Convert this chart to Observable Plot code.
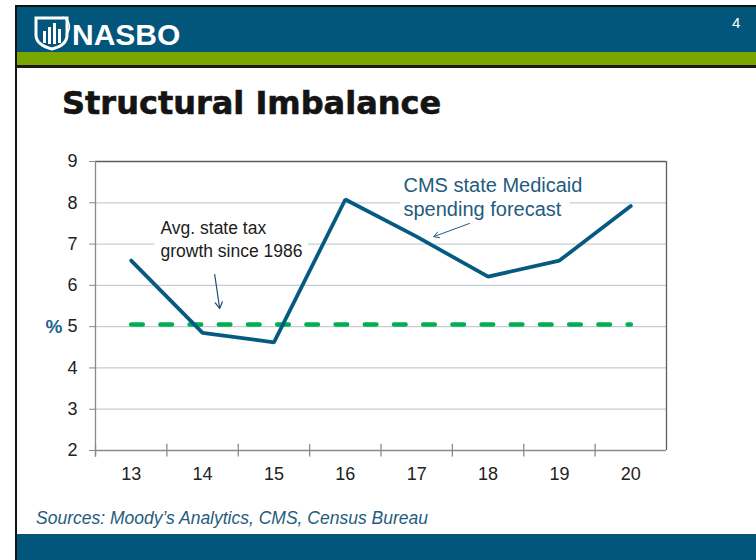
<!DOCTYPE html>
<html>
<head>
<meta charset="utf-8">
<script src="https://cdn.jsdelivr.net/npm/d3@7"></script>
<script src="https://cdn.jsdelivr.net/npm/@observablehq/plot@0.6"></script>
<style>
  html, body { margin: 0; padding: 0; background: #fff; }
  #slide { position: relative; width: 756px; height: 560px; overflow: hidden; background: #fff; font-family: "Liberation Sans", Arial, sans-serif; }
  .abs { position: absolute; }
  #chart { position: absolute; left: 0; top: 140px; }
</style>
</head>
<body>
<div id="slide">
  <div class="abs" style="left:15px;top:5px;width:741px;height:2px;background:#111;"></div>
  <div class="abs" style="left:17px;top:7px;width:739px;height:45px;background:#02557B;"></div>
  <div class="abs" style="left:17px;top:52px;width:739px;height:13px;background:#7AA600;"></div>
  <div class="abs" style="left:15px;top:65px;width:741px;height:2.5px;background:#1a1a1a;"></div>
  <div class="abs" style="left:15px;top:5px;width:2px;height:555px;background:#111;"></div>
  <div class="abs" style="left:17px;top:534px;width:739px;height:26px;background:#02557B;"></div>
  <svg class="abs" style="left:33px;top:15px;" width="40" height="36" viewBox="0 0 40 36">
    <path d="M3 3 H34 V20 C34 28 27 32 19 34 C11 32 3 28 3 20 Z" fill="none" stroke="#fff" stroke-width="3"/>
    <rect x="10" y="16" width="3" height="12" fill="#fff"/>
    <rect x="15" y="12" width="3" height="17" fill="#fff"/>
    <rect x="20" y="8" width="3" height="21" fill="#fff"/>
    <rect x="25" y="14" width="3" height="14" fill="#fff"/>
    <path d="M30 2 C38 6 38 14 33 20" fill="none" stroke="#fff" stroke-width="1.5"/>
  </svg>
  <div class="abs" style="left:72px;top:20px;font-size:30px;line-height:30px;font-weight:bold;color:#fff;letter-spacing:0px;">NASBO</div>
  <div class="abs" style="left:732px;top:15px;font-size:15px;line-height:15px;color:#fff;">4</div>
  <div class="abs" style="left:62px;top:87px;font-family:'DejaVu Sans',sans-serif;font-size:32px;line-height:32px;font-weight:bold;color:#141414;-webkit-text-stroke:0.6px #141414;">Structural Imbalance</div>
  <div id="chart"></div>
  <div class="abs" style="left:36px;top:509px;font-size:17.5px;line-height:18px;font-style:italic;color:#1F5C7E;">Sources: Moody’s Analytics, CMS, Census Bureau</div>
</div>
<script>
// ---- data ----
const years = [13, 14, 15, 16, 17, 18, 19, 20];
const medicaid = [6.6, 4.85, 4.62, 8.08, 7.18, 6.21, 6.6, 7.92];
const taxAvg = [5.05, 5.05, 5.05, 5.05, 5.05, 5.05, 5.05, 5.05];
const yTicks = [2, 3, 4, 5, 6, 7, 8, 9];
const gridLines = [3, 4, 5, 6, 7, 8];
const boundaries = [12.5, 13.5, 14.5, 15.5, 16.5, 17.5, 18.5, 19.5];
const taxLabel = "Avg. state tax\ngrowth since 1986";
const medicaidLabel = "CMS state Medicaid\nspending forecast";
const yLabel = "%";

const lineData = years.map((x, i) => ({x, y: medicaid[i]}));
const avgData = years.map((x, i) => ({x, y: taxAvg[i]}));

const axisGray = "#8a8a8a";
const frameGray = "#5e5e5e";
const gridColor = "#C7CDD7";
const lineBlue = "#065A82";
const annBlue = "#1F5C7E";

const chart = Plot.plot({
  width: 756,
  height: 360,
  marginLeft: 95,
  marginRight: 90,
  marginTop: 21,
  marginBottom: 50,
  style: {background: "transparent", color: "#222", fontFamily: "'Liberation Sans', Arial, sans-serif", fontSize: "18px", overflow: "visible"},
  x: {type: "linear", domain: [12.5, 20.5]},
  y: {type: "linear", domain: [2, 9]},
  marks: [
    Plot.ruleY(gridLines, {stroke: gridColor, strokeWidth: 1.3}),
    Plot.rect([0], {x1: 13.33, x2: 15.48, y1: 6.48, y2: 7.76, fill: "white"}),
    Plot.rect([0], {x1: 16.77, x2: 19.15, y1: 7.57, y2: 8.73, fill: "white"}),
    Plot.ruleY([9], {stroke: frameGray, strokeWidth: 1.3}),
    Plot.ruleX([20.5], {y1: 2, y2: 9, stroke: frameGray, strokeWidth: 1.3}),
    Plot.ruleY([2], {stroke: axisGray, strokeWidth: 1.3}),
    Plot.ruleX([12.5], {y1: 1.84, y2: 9, stroke: axisGray, strokeWidth: 1.3}),
    Plot.ruleX(boundaries, {y1: 1.84, y2: 2.15, stroke: axisGray, strokeWidth: 1.3}),
    Plot.axisY(yTicks, {tickSize: 6, tickPadding: 12, stroke: axisGray, fontSize: 18, fill: "#222", label: null}),
    Plot.axisX(years, {tickSize: 0, tickPadding: 17, fontSize: 18, fill: "#222", label: null, tickFormat: d => String(d)}),
    Plot.text([yLabel], {x: 12.5, y: 5, dx: -33, textAnchor: "end", fontSize: 19, fontWeight: "bold", fill: "#1F6392"}),
    Plot.line(avgData, {x: "x", y: "y", stroke: "#00B050", strokeWidth: 4.5, strokeDasharray: "11.6,17.6", strokeLinecap: "round"}),
    Plot.line(lineData, {x: "x", y: "y", stroke: lineBlue, strokeWidth: 3.75, strokeLinejoin: "miter"}),
    Plot.text([taxLabel], {x: 13.41, y: 7.147, textAnchor: "start", lineHeight: 1.33, fontSize: 17.5, fill: "#1c1c1c"}),
    Plot.text([medicaidLabel], {x: 16.815, y: 8.152, textAnchor: "start", lineHeight: 1.2, fontSize: 20, fill: annBlue}),
    Plot.arrow([0], {x1: 14.17, y1: 6.26, x2: 14.24, y2: 5.44, stroke: "#1F4E79", strokeWidth: 1.2, headLength: 9}),
    Plot.arrow([0], {x1: 17.74, y1: 7.50, x2: 17.24, y2: 7.18, stroke: annBlue, strokeWidth: 1, headLength: 9})
  ]
});
document.getElementById("chart").appendChild(chart);
</script>
</body>
</html>
